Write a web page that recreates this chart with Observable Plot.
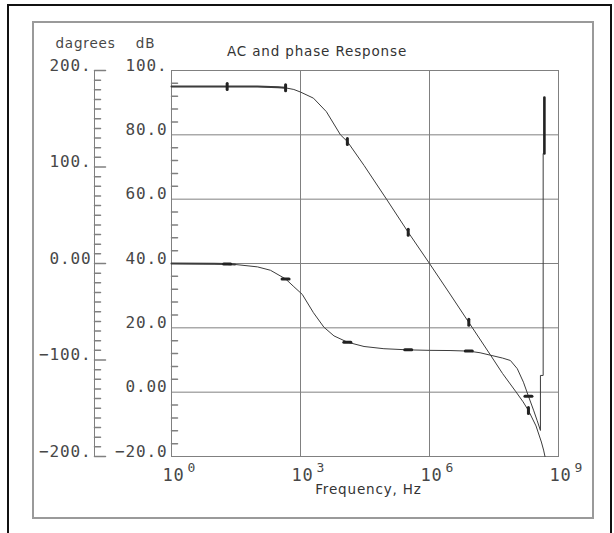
<!DOCTYPE html>
<html><head><meta charset="utf-8">
<script src="https://cdn.jsdelivr.net/npm/d3@7"></script>
<script src="https://cdn.jsdelivr.net/npm/@observablehq/plot@0.6"></script>
<style>
body{margin:0;background:#fff}
svg text{letter-spacing:0.85px}
</style></head><body><div id="chart"></div>
<script>
// Magnitude response (Hz, dB)
const magFreq = [1, 3, 10, 19.7, 50, 100, 300, 450, 700, 1000, 2000, 4000, 8500, 12300, 30000, 1e5, 3.2e5, 1e6, 3e6, 8.2e6, 2.6e7, 5e7, 1e8, 1.5e8, 2e8, 3e8, 4e8, 4.5e8, 4.85e8];
const magDb   = [95, 95, 95, 95, 95, 95, 94.8, 94.6, 94.1, 93.3, 91.4, 87.2, 80.0, 77.9, 70.5, 60, 49.7, 40, 30.5, 21.7, 11.6, 5.8, 0.3, -3, -5.7, -10.5, -15.5, -18, -20];
// Phase response (Hz, degrees)
const phaseFreq = [1, 10, 19.7, 30, 100, 200, 450, 700, 1100, 2000, 3500, 6000, 12300, 30000, 87000, 3.2e5, 1e6, 3e6, 8.2e6, 1.5e7, 2.6e7, 5e7, 7.6e7, 1.1e8, 1.53e8, 2e8, 2.63e8, 3.2e8, 3.8e8, 3.8e8, 4.4e8, 4.4e8, 4.7e8, 4.7e8];
const phaseDeg  = [0, -0.3, -0.5, -1, -3.5, -7, -16, -24, -32, -51, -66, -75, -81.5, -86, -88.3, -89.5, -90, -90.2, -90.8, -92.5, -95, -98, -100.5, -109, -123, -137.5, -152, -163, -173, -116, -116, 114, 114, 172];
// bold phase-wrap segment
const wrapFreq = [4.7e8, 4.7e8];
const wrapDeg = [114, 172];
// marker frequencies
const markerFreq = [19.7, 450, 12300, 3.2e5, 8.2e6, 2e8];

// axes
const dbMajor = [100, 80, 60, 40, 20, 0, -20];
const dbLabels = ["100.", "80.0", "60.0", "40.0", "20.0", "0.00", "\u221220.0"];
const degMajor = [200, 100, 0, -100, -200];
const degLabels = ["200.", "100.", "0.00", "\u2212100.", "\u2212200."];
const dbGrid = [0, 20, 40, 60, 80];
const xGrid = [1e3, 1e6];
const xTicks = [1, 1e3, 1e6, 1e9];
const xExp = ["0", "3", "6", "9"];
const dbMinor = d3.range(-20, 101, 4).filter(v => v % 20 !== 0);
const degMinor = d3.range(-200, 201, 10).filter(v => v % 100 !== 0);

const toDb = deg => 40 + deg * 0.3;  // 200° ↔ 100 dB, −200° ↔ −20 dB

const mag = magFreq.map((f, i) => ({f, v: magDb[i]}));
const phase = phaseFreq.map((f, i) => ({f, v: toDb(phaseDeg[i])}));
const wrap = wrapFreq.map((f, i) => ({f, v: toDb(wrapDeg[i])}));
const magMarks = mag.filter(d => markerFreq.includes(d.f));
const phaseMarks = phase.filter(d => markerFreq.includes(d.f));

const grid = "#808080";
const ink = "#3c3c3c";
const txt = "#474747";
const mono = "DejaVu Sans Mono";
const sans = "DejaVu Sans";
const stroke = {draw(context, l) { context.moveTo(0, 0); context.lineTo(0, -l); }};

const chart = Plot.plot({
  width: 614, height: 533,
  marginLeft: 171, marginRight: 56, marginTop: 70, marginBottom: 77,
  x: {type: "log", domain: [1, 1e9], axis: null},
  y: {domain: [-20, 100], axis: null},
  marks: [
    Plot.gridX(xGrid, {stroke: grid, strokeOpacity: 1}),
    Plot.gridY(dbGrid, {stroke: grid, strokeOpacity: 1}),
    Plot.frame({stroke: grid}),
    // dB minor ticks (inside)
    Plot.vector(dbMinor, {x: () => 1, y: d => d, rotate: 90, length: 6, anchor: "start", shape: stroke, stroke: grid}),
    // dB labels
    Plot.text(dbMajor, {x: () => 1, y: d => d, text: (d, i) => dbLabels[i], textAnchor: "end", dx: -4, dy: -5, fontFamily: mono, fontSize: 16, fill: txt}),
    // degrees axis
    Plot.ruleX([1], {y1: -20, y2: 100, dx: -77, stroke: grid}),
    Plot.vector(degMinor, {x: () => 1, y: d => toDb(d), rotate: 90, length: 6, anchor: "start", dx: -77, shape: stroke, stroke: grid}),
    Plot.vector(degMajor, {x: () => 1, y: d => toDb(d), rotate: 90, length: 11, anchor: "start", dx: -77, shape: stroke, stroke: grid}),
    Plot.text(degMajor, {x: () => 1, y: d => toDb(d), text: (d, i) => degLabels[i], textAnchor: "end", dx: -80, dy: -5, fontFamily: mono, fontSize: 16, fill: txt}),
    // x tick labels 10^n
    Plot.text(xTicks, {x: d => d, y: () => -20, text: () => "10", dx: 2, dy: 19.5, fontFamily: mono, fontSize: 17, fill: txt}),
    Plot.text(xTicks, {x: d => d, y: () => -20, text: (d, i) => xExp[i], textAnchor: "start", dx: 16, dy: 11.5, fontFamily: mono, fontSize: 13, fill: txt}),
    // curves
    Plot.line(mag, {x: "f", y: "v", stroke: ink, strokeWidth: 1}),
    Plot.line(mag.filter(d => d.f <= 450), {x: "f", y: "v", stroke: ink, strokeWidth: 2}),
    Plot.line(phase, {x: "f", y: "v", stroke: ink, strokeWidth: 1}),
    Plot.line(phase.filter(d => d.f <= 30), {x: "f", y: "v", stroke: ink, strokeWidth: 2}),
    Plot.line(wrap, {x: "f", y: "v", stroke: "#222", strokeWidth: 2.6}),
    // markers
    Plot.vector(magMarks, {x: "f", y: "v", rotate: 0, length: 6, anchor: "middle", shape: stroke, stroke: "#222", strokeWidth: 3}),
    Plot.vector(phaseMarks, {x: "f", y: "v", rotate: 90, length: 7, anchor: "middle", shape: stroke, stroke: "#222", strokeWidth: 3}),
    // titles
    Plot.text(["AC and phase Response"], {frameAnchor: "top", dx: -48, dy: -24.3, fontFamily: sans, fontSize: 13.5, fill: "#333"}),
    Plot.text(["dagrees"], {frameAnchor: "top-left", textAnchor: "middle", dx: -86, dy: -32.3, fontFamily: sans, fontSize: 13.5, fill: txt}),
    Plot.text(["dB"], {frameAnchor: "top-left", textAnchor: "middle", dx: -26, dy: -32.3, fontFamily: sans, fontSize: 13.5, fill: txt}),
    Plot.text(["Frequency, Hz"], {frameAnchor: "bottom", dx: 3.5, dy: 37.7, fontFamily: sans, fontSize: 13.5, fill: "#333"})
  ]
});

const svg = d3.select(chart);
svg.append("rect").attr("x", 33).attr("y", 22).attr("width", 560).attr("height", 496)
  .attr("fill", "none").attr("stroke", "#9a9a9a").attr("stroke-width", 2);
svg.append("rect").attr("x", 8).attr("y", 5).attr("width", 603).attr("height", 600)
  .attr("fill", "none").attr("stroke", "#111").attr("stroke-width", 2);

document.getElementById("chart").appendChild(chart);
</script></body></html>
